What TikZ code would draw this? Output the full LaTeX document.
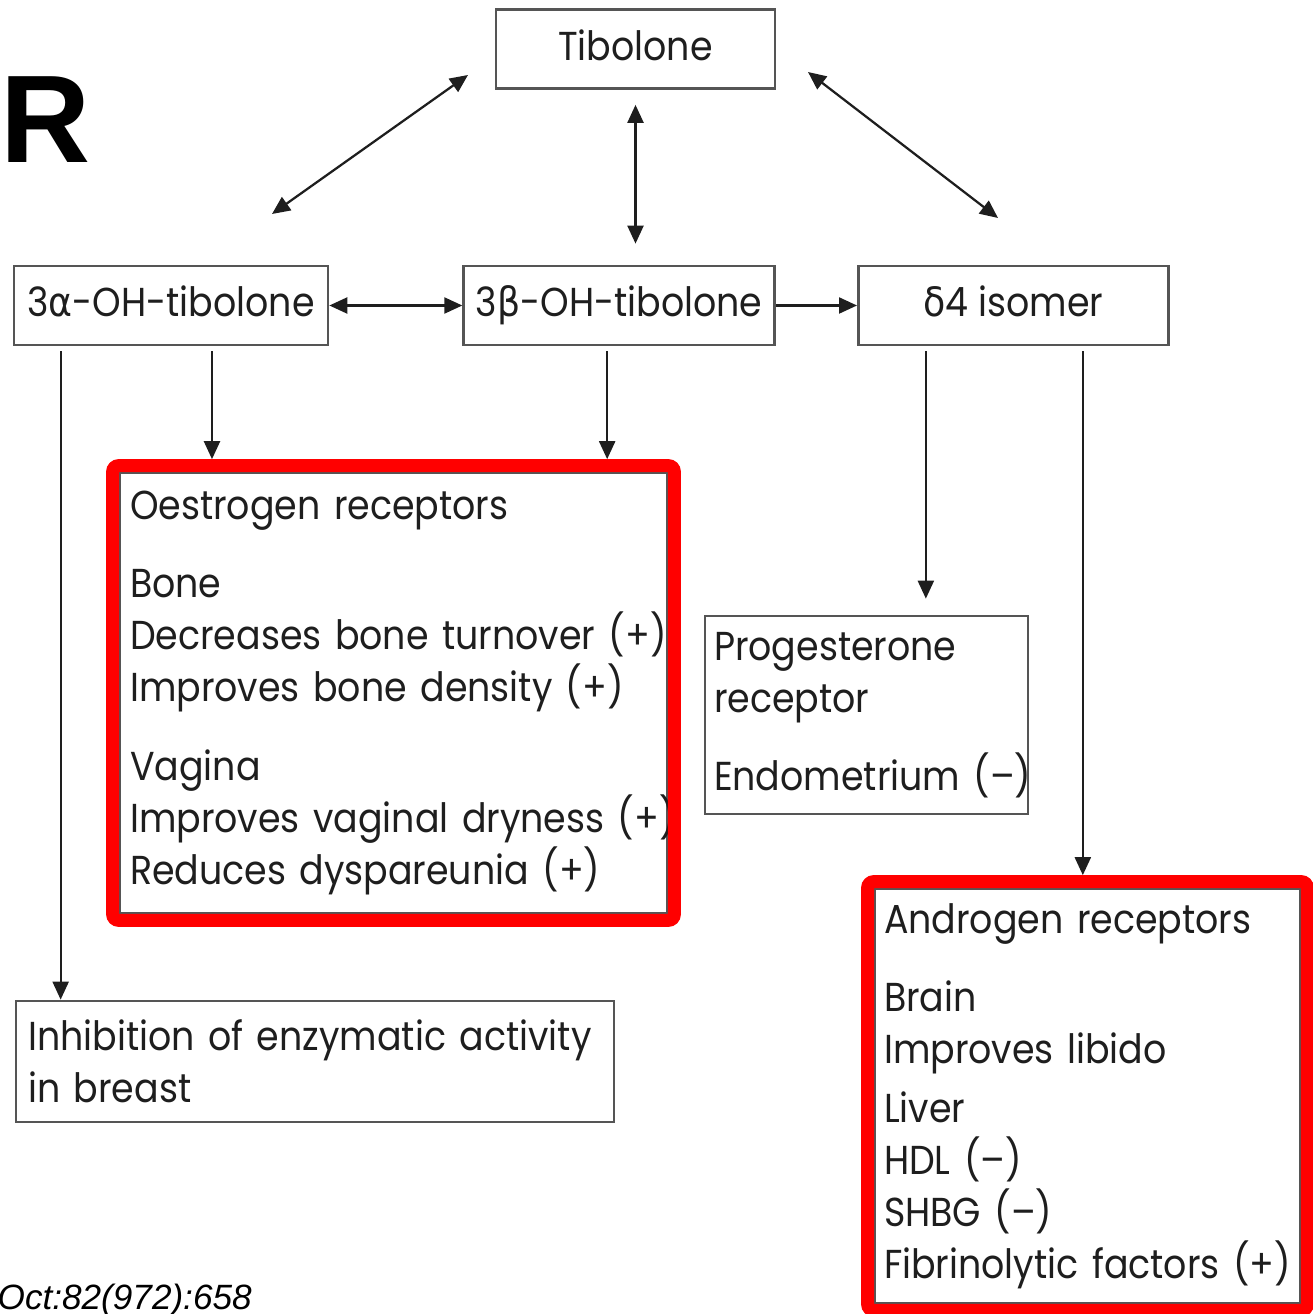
\documentclass[tikz,border=0pt]{standalone}
\usepackage{fontspec}
\setmainfont{Poppins}[FakeStretch=0.9]
\newfontfamily\grkfont{DejaVu Sans}[FakeStretch=0.9]
\newfontfamily\slidefont{Liberation Sans}
\usetikzlibrary{positioning, arrows.meta}
\definecolor{boxgray}{HTML}{555555}
\definecolor{inkgray}{HTML}{1E1E1E}
\definecolor{hlred}{HTML}{FF0000}
\newcommand{\grk}[1]{{\grkfont #1}}
\newcommand{\boxfont}{\fontsize{23}{29.6}\selectfont}

\begin{document}
\begin{tikzpicture}[
                  x=0.02cm, y=-0.02cm,
                  box/.style={draw=boxgray, line width=0.055cm, inner sep=0pt,
                              text=inkgray, font=\boxfont},
                  head/.style={box, minimum height=1.58cm, align=center,
                               text height=0.58cm, text depth=0.12cm},
                  panel/.style={box, align=left},
                  frame/.style={draw=hlred, line width=0.26cm, rounded corners=0.12cm},
                  arr/.style={->, >={Triangle[length=0.36cm, width=0.32cm]},
                              line width=0.045cm, draw=inkgray},
                  twoway/.style={arr, <->},
            ]
            \useasboundingbox (0,0) rectangle (1312,1314);

            % slide leftovers
            \node[font={\fontsize{71}{71}\slidefont\bfseries}, anchor=base west, inner sep=0pt]
                  (slideR) at (0,163) {R};
            \node[font={\fontsize{20}{20}\slidefont\itshape}, anchor=base east, inner sep=0pt]
                  (cite) at (252,1309) {Oct:82(972):658};

            % Row 1: parent compound
            \node[head, minimum width=5.58cm] (tib) at (635.5,49) {Tibolone};

            % Row 2: metabolites
            \node[head, minimum width=6.28cm] (alpha) at (171,305.5) {3\grk{α}-OH-tibolone};
            \node[head, minimum width=6.22cm, right=2.66cm of alpha] (beta) {3\grk{β}-OH-tibolone};
            \node[head, minimum width=6.2cm, right=1.62cm of beta] (delta) {\grk{δ}4 isomer};

            % Receptor panels (\mbox keeps each printed line whole)
            \node[panel, minimum width=10.94cm, minimum height=8.8cm, inner xsep=0.2cm,
                  text width=10.54cm] (oes) at (393.5,693)
            {\mbox{Oestrogen receptors}\\[15pt]
             \mbox{Bone}\\
             \mbox{Decreases bone turnover (+)}\\
             \mbox{Improves bone density (+)}\\[15pt]
             \mbox{Vagina}\\
             \mbox{Improves vaginal dryness (+)}\\
             \mbox{Reduces dyspareunia (+)}};
            \node[panel, minimum width=6.46cm, minimum height=3.96cm, inner xsep=0.18cm,
                  text width=6.1cm] (prog) at (866.5,715)
            {\mbox{Progesterone}\\
             \mbox{receptor}\\[15pt]
             \mbox{Endometrium (--)}};
            \node[panel, minimum width=11.96cm, minimum height=2.42cm, inner xsep=0.24cm,
                  text width=11.48cm] (inh) at (315,1061.5)
            {\mbox{Inhibition of enzymatic activity}\\
             \mbox{in breast}};
            \node[panel, minimum width=8.5cm, minimum height=8.28cm, inner xsep=0.18cm,
                  text width=8.14cm] (andr) at (1087.5,1096)
            {\mbox{Androgen receptors}\\[15pt]
             \mbox{Brain}\\
             \mbox{Improves libido}\\[4pt]
             \mbox{Liver}\\
             \mbox{HDL (--)}\\
             \mbox{SHBG (--)}\\
             \mbox{Fibrinolytic factors (+)}};

            % Arrows between Tibolone and metabolites
            \coordinate (tibSW) at (468,75);
            \coordinate (alphaNE) at (272,214);
            \coordinate (tibSE) at (808,72);
            \coordinate (deltaNW) at (998,218);
            \draw[twoway] (tibSW) -- (alphaNE);
            \draw[twoway] (tibSE) -- (deltaNW);
            \draw[twoway, shorten <=0.3cm, shorten >=0.42cm] (tib.south) -- (tib.south |- beta.north);
            \draw[twoway] (alpha) -- (beta);
            \draw[arr] (beta) -- (delta);

            % Arrows down to the effects
            \draw[arr, shorten <=0.1cm] ([xshift=0.96cm]alpha.south west)
                  -- ([xshift=0.96cm]alpha.south west |- inh.north);
            \draw[arr, shorten <=0.1cm, shorten >=0.25cm] ([xshift=0.82cm]alpha.south)
                  -- ([xshift=0.82cm]alpha.south |- oes.north);
            \draw[arr, shorten <=0.1cm, shorten >=0.25cm] ([xshift=-0.24cm]beta.south)
                  -- ([xshift=-0.24cm]beta.south |- oes.north);
            \draw[arr, shorten <=0.1cm, shorten >=0.32cm] ([xshift=-1.75cm]delta.south)
                  -- ([xshift=-1.75cm]delta.south |- prog.north);
            \draw[arr, shorten <=0.1cm, shorten >=0.25cm] ([xshift=1.39cm]delta.south)
                  -- ([xshift=1.39cm]delta.south |- andr.north);

            % red highlight frames
            \draw[frame] ([shift={(-6,-6)}]oes.north west) rectangle ([shift={(6,6)}]oes.south east);
            \draw[frame] ([shift={(-6,-6)}]andr.north west) rectangle ([shift={(6,6)}]andr.south east);

      \end{tikzpicture}
\end{document}
